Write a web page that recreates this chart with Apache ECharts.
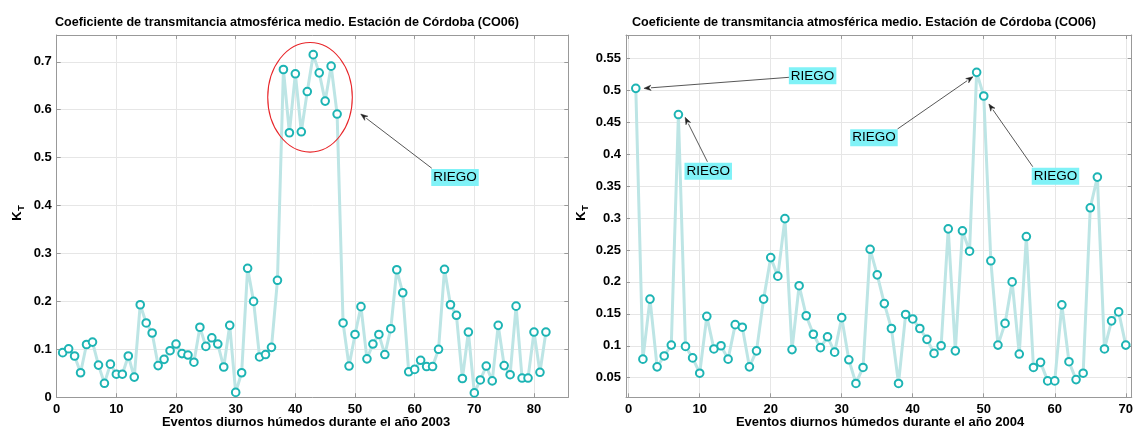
<!DOCTYPE html>
<html>
<head>
<meta charset="utf-8">
<script src="https://cdn.jsdelivr.net/npm/echarts@6/dist/echarts.min.js"></script>
<style>
  html, body { margin: 0; padding: 0; background: #fff; }
  #chart { width: 1136px; height: 430px; }
</style>
</head>
<body>
<div id="chart"></div>
<script>
// Mean atmospheric transmittance coefficient K_T, Córdoba station (CO06)
const kt2003 = [
  0.093, 0.101, 0.086, 0.051, 0.110, 0.115, 0.067, 0.029, 0.069, 0.048,
  0.048, 0.086, 0.042, 0.193, 0.155, 0.134, 0.066, 0.079, 0.097, 0.111,
  0.091, 0.088, 0.073, 0.146, 0.106, 0.124, 0.111, 0.063, 0.150, 0.010,
  0.051, 0.269, 0.200, 0.084, 0.089, 0.104, 0.244, 0.684, 0.552, 0.675,
  0.554, 0.638, 0.715, 0.677, 0.618, 0.691, 0.591, 0.155, 0.065, 0.131,
  0.189, 0.080, 0.111, 0.131, 0.089, 0.143, 0.266, 0.218, 0.053, 0.058,
  0.077, 0.064, 0.064, 0.100, 0.267, 0.193, 0.171, 0.039, 0.136, 0.009,
  0.036, 0.065, 0.034, 0.150, 0.066, 0.047, 0.190, 0.040, 0.040, 0.136,
  0.052, 0.136
];
const kt2004 = [
  0.503, 0.079, 0.173, 0.067, 0.084, 0.101, 0.462, 0.099, 0.081, 0.057,
  0.146, 0.095, 0.100, 0.079, 0.133, 0.129, 0.067, 0.092, 0.173, 0.238,
  0.209, 0.299, 0.094, 0.194, 0.147, 0.118, 0.097, 0.114, 0.090, 0.144,
  0.078, 0.041, 0.066, 0.251, 0.211, 0.166, 0.127, 0.041, 0.149, 0.142,
  0.127, 0.110, 0.088, 0.100, 0.283, 0.092, 0.280, 0.248, 0.528, 0.491,
  0.233, 0.101, 0.135, 0.200, 0.087, 0.271, 0.066, 0.074, 0.045, 0.045,
  0.164, 0.075, 0.047, 0.057, 0.316, 0.364, 0.095, 0.139, 0.153, 0.101
];

// Axis tick labels
const xTicks2003 = [0, 10, 20, 30, 40, 50, 60, 70, 80];
const yTicks2003 = [0, 0.1, 0.2, 0.3, 0.4, 0.5, 0.6, 0.7];
const xTicks2004 = [0, 10, 20, 30, 40, 50, 60, 70];
const yTicks2004 = [0.05, 0.1, 0.15, 0.2, 0.25, 0.3, 0.35, 0.4, 0.45, 0.5, 0.55];

// Texts
const titleText = 'Coeficiente de transmitancia atmosférica medio. Estación de Córdoba (CO06)';
const xName2003 = 'Eventos diurnos húmedos durante el año 2003';
const xName2004 = 'Eventos diurnos húmedos durante el año 2004';
const noteText = 'RIEGO';

// Irrigation callouts, in data units: [tipX, tipY, tailX, tailY, boxX, boxY]
const notes2003 = [[50.96, 0.591, 62.86, 0.478, 66.76, 0.4587]];
const notes2004 = [
  [2.15, 0.503, 22.74, 0.5204, 25.9, 0.5226],
  [7.95, 0.4576, 11.09, 0.388, 11.2, 0.3733],
  [48.48, 0.5212, 37.85, 0.4393, 34.54, 0.4257],
  [50.72, 0.4785, 56.9, 0.3803, 60.1, 0.3652]
];
// Ellipse around the irrigated stretch of 2003: [cx, cy, rx, ry]
const ring2003 = [[42.46, 0.626, 7.09, 0.1144]];

const FONT = "'Liberation Sans', Arial, Helvetica, sans-serif";
const AXIS_COLOR = '#999999';
const GRID_COLOR = '#e6e6e6';
const LINE_COLOR = '#bde5e5';
const MARK_COLOR = '#1db4b4';

const pairs = arr => arr.map((v, i) => [i + 1, v]);

function xAxisDef(gridIndex, min, max, ticks, top) {
  return {
    type: 'value', gridIndex, min, max,
    position: top ? 'top' : 'bottom',
    minInterval: 10, maxInterval: 10, splitNumber: Math.round((max - min) / 10),
    axisLine: { show: true, onZero: false, lineStyle: { color: AXIS_COLOR, width: 1 } },
    axisTick: { show: true, inside: true, length: 4, lineStyle: { color: AXIS_COLOR } },
    axisLabel: {
      show: !top, showMinLabel: ticks.indexOf(min) >= 0, showMaxLabel: false,
      margin: 6, color: '#000', fontSize: 13, fontWeight: 'bold', fontFamily: FONT
    },
    splitLine: { show: !top, lineStyle: { color: GRID_COLOR, width: 1 } }
  };
}

function yAxisDef(gridIndex, min, max, step, ticks, right) {
  return {
    type: 'value', gridIndex, min, max,
    position: right ? 'right' : 'left',
    minInterval: step, maxInterval: step, splitNumber: Math.round((max - min) / step),
    axisLine: { show: true, onZero: false, lineStyle: { color: AXIS_COLOR, width: 1 } },
    axisTick: { show: true, inside: true, length: 4, lineStyle: { color: AXIS_COLOR } },
    axisLabel: {
      show: !right, showMinLabel: ticks.indexOf(min) >= 0, showMaxLabel: false,
      margin: 5, color: '#000', fontSize: 13, fontWeight: 'bold', fontFamily: FONT
    },
    splitLine: { show: !right, lineStyle: { color: GRID_COLOR, width: 1 } }
  };
}

function lineSeries(axisIndex, values) {
  return {
    type: 'line', xAxisIndex: axisIndex, yAxisIndex: axisIndex,
    data: pairs(values),
    symbol: 'emptyCircle', symbolSize: 7.6,
    lineStyle: { color: LINE_COLOR, width: 3 },
    itemStyle: { color: MARK_COLOR, borderColor: MARK_COLOR, borderWidth: 2.6 },
    z: 3, animation: false, silent: true
  };
}

// Arrow with a text box at its tail
function noteSeries(axisIndex, notes) {
  return {
    type: 'custom', xAxisIndex: axisIndex, yAxisIndex: axisIndex,
    data: notes, clip: false, z: 5, animation: false, silent: true,
    renderItem: function (params, api) {
      const tip = api.coord([api.value(0), api.value(1)]);
      const tail = api.coord([api.value(2), api.value(3)]);
      const box = api.coord([api.value(4), api.value(5)]);
      const ang = Math.atan2(tip[1] - tail[1], tip[0] - tail[0]);
      const L = 7, W = 2.6;
      const bx = tip[0] - L * Math.cos(ang), by = tip[1] - L * Math.sin(ang);
      const nx = -Math.sin(ang) * W, ny = Math.cos(ang) * W;
      return {
        type: 'group',
        children: [
          { type: 'line', shape: { x1: tail[0], y1: tail[1], x2: bx, y2: by },
            style: { stroke: '#444', lineWidth: 0.9 } },
          { type: 'polygon',
            shape: { points: [[tip[0], tip[1]], [bx + nx, by + ny], [bx + 0.3 * L * Math.cos(ang), by + 0.3 * L * Math.sin(ang)], [bx - nx, by - ny]] },
            style: { fill: '#222', stroke: '#222', lineWidth: 0.5 } },
          { type: 'text', x: box[0], y: box[1],
            style: { text: noteText, fill: '#000', font: '13.5px ' + FONT,
              align: 'center', verticalAlign: 'middle',
              backgroundColor: '#80f2f7', padding: [2, 2, 1, 2] } }
        ]
      };
    }
  };
}

function ringSeries(axisIndex, rings) {
  return {
    type: 'custom', xAxisIndex: axisIndex, yAxisIndex: axisIndex,
    data: rings, clip: false, z: 4, animation: false, silent: true,
    renderItem: function (params, api) {
      const c = api.coord([api.value(0), api.value(1)]);
      const s = api.size([api.value(2), api.value(3)]);
      return { type: 'ellipse', shape: { cx: c[0], cy: c[1], rx: s[0], ry: s[1] },
               style: { fill: 'none', stroke: '#e8262a', lineWidth: 1.1 } };
    }
  };
}

function kLabel(x, y) {
  return {
    type: 'group', x: x, y: y, rotation: Math.PI / 2,
    children: [
      { type: 'text', x: 0, y: 0,
        style: { text: 'K', font: 'bold 13px ' + FONT, fill: '#000', align: 'center', verticalAlign: 'middle' } },
      { type: 'text', x: 8, y: 5,
        style: { text: 'T', font: 'bold 9px ' + FONT, fill: '#000', align: 'center', verticalAlign: 'middle' } }
    ]
  };
}

const chart = echarts.init(document.getElementById('chart'), null, { renderer: 'canvas' });
chart.setOption({
  backgroundColor: '#fff',
  animation: false,
  title: [
    { text: titleText, left: 282, top: 11, textAlign: 'center',
      textStyle: { fontSize: 12.6, fontWeight: 'bold', color: '#000', fontFamily: FONT } },
    { text: titleText, left: 859, top: 11, textAlign: 'center',
      textStyle: { fontSize: 12.6, fontWeight: 'bold', color: '#000', fontFamily: FONT } }
  ],
  grid: [
    { left: 56.7, top: 35, width: 511.6, height: 362.2, show: false },
    { left: 626, top: 35, width: 507.3, height: 362.3, show: false }
  ],
  xAxis: [
    xAxisDef(0, 0, 85.75, xTicks2003, false),
    xAxisDef(1, -0.38, 70.84, xTicks2004, false),
    xAxisDef(0, 0, 85.75, xTicks2003, true),
    xAxisDef(1, -0.38, 70.84, xTicks2004, true)
  ],
  yAxis: [
    yAxisDef(0, 0, 0.756, 0.1, yTicks2003, false),
    yAxisDef(1, 0.0193, 0.5865, 0.05, yTicks2004, false),
    yAxisDef(0, 0, 0.756, 0.1, yTicks2003, true),
    yAxisDef(1, 0.0193, 0.5865, 0.05, yTicks2004, true)
  ],
  series: [
    lineSeries(0, kt2003),
    lineSeries(1, kt2004),
    ringSeries(0, ring2003),
    noteSeries(0, notes2003),
    noteSeries(1, notes2004)
  ],
  graphic: [
    { type: 'text', x: 306, y: 422,
      style: { text: xName2003, font: 'bold 13px ' + FONT, fill: '#000', align: 'center', verticalAlign: 'middle' } },
    { type: 'text', x: 880, y: 422,
      style: { text: xName2004, font: 'bold 13px ' + FONT, fill: '#000', align: 'center', verticalAlign: 'middle' } },
    kLabel(17, 216),
    kLabel(581, 216)
  ]
});
</script>
</body>
</html>
